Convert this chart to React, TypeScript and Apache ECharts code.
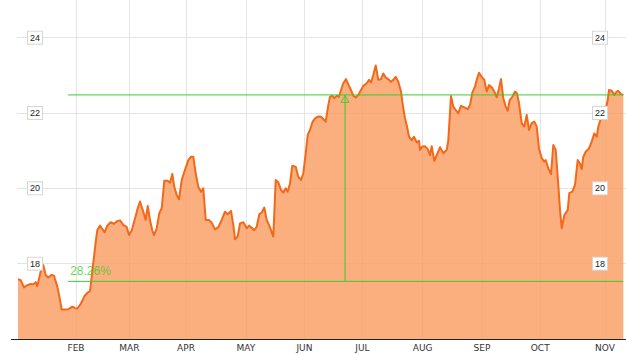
import React, { useEffect, useRef } from "react";
import * as echarts from "echarts";

// trading-day index (x) and closing price (y)
const days = [
  0, 0.96, 2.14, 3.32, 4.54, 5.46, 6.32, 6.89, 8.11, 9.04, 9.89, 10.82, 11.89, 12.86, 14.04, 14.89, 15.61, 17.04, 18.21, 19.39,
  20.36, 21.18, 22.39, 23.82, 25.0, 25.71, 26.68, 27.75, 28.32, 29.29, 30.11, 30.96, 31.89, 33.11, 34.29, 35.46, 36.43, 37.61, 38.82, 39.64,
  40.61, 41.79, 42.75, 43.57, 44.75, 45.61, 46.32, 47.14, 47.96, 48.57, 49.54, 50.46, 51.32, 52.25, 53.46, 54.29, 55.11, 55.82, 56.68, 57.5,
  58.46, 59.64, 60.82, 61.79, 62.61, 63.46, 64.39, 65.36, 66.18, 67.04, 68.21, 69.18, 70.36, 71.54, 72.75, 73.93, 74.89, 76.07, 76.89, 77.5,
  78.46, 79.29, 80.46, 81.68, 82.5, 83.46, 84.39, 85.25, 86.18, 87.04, 87.96, 88.82, 89.64, 90.36, 91.18, 92.04, 92.96, 93.93, 94.75, 95.61,
  96.32, 97.14, 97.96, 99.18, 100.1, 101.07, 101.89, 102.75, 103.46, 104.29, 105.11, 106.07, 107.25, 108.21, 109.89, 110.82, 111.43, 112.25, 112.96, 113.82,
  114.64, 115.36, 116.18, 117.14, 117.96, 118.93, 119.75, 120.61, 121.54, 122.5, 123.32, 124.54, 125.36, 126.07, 126.89, 127.75, 128.68, 129.64, 130.46, 131.32,
  132.25, 133.21, 134.04, 134.89, 135.82, 136.79, 137.5, 138.21, 138.93, 139.64, 140.61, 141.43, 142.39, 143.21, 143.57, 144.39, 145.36, 146.32, 147.14, 147.75,
  148.68, 149.54, 150.71, 151.89, 153.11, 153.68, 154.64, 155.46, 156.32, 157.25, 158.21, 159.39, 160.61, 161.43, 162.25, 163.21, 163.82, 164.64, 165.61, 166.54,
  167.39, 168.21, 169.18, 170.11, 170.96, 171.79, 172.5, 173.32, 174.18, 174.89, 175.61, 176.54, 177.5, 178.21, 178.93, 179.89, 180.82, 181.68, 182.5, 183.46,
  184.39, 185.25, 186.07, 187.04, 187.96, 188.46, 189.39, 190.36, 191.18, 192.04, 192.75, 193.57, 194.18, 195.11, 196.32, 196.89, 197.96, 198.93, 199.89, 200.71,
  201.32, 201.89, 202.75, 203.93, 204.89, 205.82, 206.68, 207.25, 208.21, 209.04, 209.89, 210.61, 211.07, 212.04, 212.96, 213.82, 214.39, 215.36, 216.18,
];
const prices = [
  17.59, 17.56, 17.37, 17.43, 17.46, 17.45, 17.51, 17.4, 17.79, 17.96, 17.7, 17.63, 17.7, 17.68, 17.39, 17.08, 16.78, 16.78, 16.8, 16.86,
  16.82, 16.81, 16.93, 17.15, 17.24, 17.27, 17.88, 18.58, 18.89, 19.01, 18.92, 18.83, 19.01, 19.1, 19.06, 19.13, 19.15, 19.03, 18.97, 18.76,
  18.88, 19.2, 19.47, 19.65, 19.38, 19.16, 19.53, 19.16, 18.88, 18.76, 18.94, 19.34, 19.47, 20.2, 20.2, 20.15, 20.38, 20.04, 19.82, 19.71,
  20.22, 20.49, 20.75, 20.84, 20.84, 20.4, 20.04, 19.91, 20.0, 19.16, 19.16, 19.09, 18.91, 18.97, 19.16, 19.38, 19.31, 19.4, 19.03, 18.65,
  18.72, 19.07, 19.1, 18.94, 19.01, 18.95, 18.89, 18.98, 19.31, 19.36, 19.49, 19.16, 19.03, 18.89, 18.72, 20.22, 20.16, 19.96, 19.89, 20.0,
  19.91, 20.13, 20.6, 20.57, 20.31, 20.22, 20.4, 20.93, 21.42, 21.55, 21.75, 21.86, 21.91, 21.9, 21.77, 22.21, 22.43, 22.46, 22.39, 22.46,
  22.43, 22.61, 22.79, 22.9, 22.76, 22.61, 22.46, 22.41, 22.48, 22.61, 22.72, 22.79, 22.88, 22.81, 23.01, 23.26, 22.88, 22.9, 23.05, 22.94,
  22.9, 22.83, 22.88, 22.96, 22.83, 22.57, 22.17, 21.86, 21.64, 21.37, 21.28, 21.37, 21.22, 21.26, 21.02, 21.11, 21.12, 21.04, 20.88, 21.12,
  20.73, 20.88, 21.09, 20.93, 21.02, 21.28, 22.45, 22.17, 22.08, 21.99, 22.19, 22.15, 22.1, 22.21, 22.54, 22.7, 22.88, 23.07, 22.96, 22.88,
  22.57, 22.74, 22.68, 22.57, 22.42, 22.66, 22.9, 22.39, 22.17, 22.06, 22.35, 22.43, 22.57, 22.52, 22.26, 21.73, 21.64, 21.95, 21.55, 21.73,
  21.77, 21.64, 21.06, 20.8, 20.71, 20.75, 20.53, 20.38, 21.15, 21.02, 20.31, 19.42, 18.94, 19.29, 19.42, 19.87, 19.91, 20.09, 20.75, 20.66,
  20.51, 20.84, 20.97, 21.06, 21.24, 21.46, 21.37, 21.64, 21.86, 21.95, 22.08, 22.35, 22.61, 22.59, 22.48, 22.57, 22.59, 22.5, 22.48,
];

// month boundaries on the trading-day axis
const monthTicks = [20.7, 39.8, 60, 81.4, 102.3, 123, 144.5, 165.7, 186.5, 209.6];
const monthLabels = ["FEB", "MAR", "APR", "MAY", "JUN", "JUL", "AUG", "SEP", "OCT", "NOV"];
const yTicks = [18, 20, 22, 24];

// gain measurement annotation
const gainLow = 17.53;
const gainHigh = 22.48;
const gainStartDay = 17.9;
const gainEndDay = 216.2;
const gainMarkDay = 116.8;
const gainLabel = "28.26%";

const GREEN = "#3ccc2e";

export default function App() {
  const ref = useRef<HTMLDivElement>(null);

  useEffect(() => {
    if (!ref.current) return;
    const chart = echarts.init(ref.current, undefined, { renderer: "svg" });
    const data = days.map((d, i) => [d, prices[i]]);

    const yBase = {
      type: "value",
      min: 16,
      max: 25,
      axisLine: { show: false },
      axisTick: { show: false, customValues: yTicks },
    };
    const yLabel = {
      inside: true,
      customValues: yTicks,
      fontFamily: "Liberation Sans, Arial, sans-serif",
      fontSize: 9,
      color: "#222",
      backgroundColor: "#fff",
      borderColor: "#d6d6d6",
      borderWidth: 1,
      padding: [2, 2, 1, 2],
    };

    const guide = (pts: number[][]) => ({
      type: "line",
      yAxisIndex: 0,
      data: pts,
      symbol: "none",
      silent: true,
      lineStyle: { color: GREEN, width: 1 },
      z: 3,
    });

    chart.setOption({
      animation: false,
      backgroundColor: "#fff",
      grid: { left: 17, right: 0, top: 0, bottom: 16, containLabel: false },
      xAxis: {
        type: "value",
        min: -0.36,
        max: 217.14,
        axisLine: { show: true, onZero: false, lineStyle: { color: "#222", width: 1 } },
        axisTick: { show: false, customValues: monthTicks },
        axisLabel: {
          customValues: monthTicks,
          formatter: (v: number) => {
            const i = monthTicks.findIndex((m) => Math.abs(m - v) < 0.01);
            return i >= 0 ? monthLabels[i] : "";
          },
          fontFamily: "DejaVu Sans, Verdana, sans-serif",
          fontSize: 9,
          color: "#333",
          margin: 4,
        },
        splitLine: { show: true, lineStyle: { color: "#e4e4e4", width: 1 } },
      },
      yAxis: [
        {
          ...yBase,
          position: "left",
          axisLabel: { show: false },
          splitLine: { show: true, lineStyle: { color: "#e4e4e4", width: 1 } },
          z: 0,
        },
        {
          ...yBase,
          position: "left",
          splitLine: { show: false },
          axisLabel: { ...yLabel, margin: 11 },
          z: 10,
        },
        {
          ...yBase,
          position: "right",
          splitLine: { show: false },
          axisLabel: { ...yLabel, margin: 19 },
          z: 10,
        },
      ],
      graphic: [
        {
          type: "line",
          shape: { x1: 11, y1: 339.5, x2: 17, y2: 339.5 },
          style: { stroke: "#222", lineWidth: 1 },
        },
      ],
      series: [
        {
          type: "line",
          data,
          showSymbol: false,
          yAxisIndex: 0,
          lineStyle: { color: "#f2691a", width: 2, join: "round" },
          areaStyle: { color: "#fa9a5e", opacity: 0.8, origin: "start" },
          z: 2,
        },
        guide([
          [gainStartDay, gainHigh],
          [gainEndDay, gainHigh],
        ]),
        guide([
          [gainStartDay, gainLow],
          [gainEndDay, gainLow],
        ]),
        guide([
          [gainMarkDay, gainLow],
          [gainMarkDay, gainHigh],
        ]),
        {
          type: "scatter",
          yAxisIndex: 0,
          silent: true,
          z: 4,
          data: [
            {
              value: [gainMarkDay, gainHigh],
              symbol: "triangle",
              symbolSize: [8, 7],
              symbolOffset: [0, 4],
              itemStyle: { color: "rgba(0,0,0,0)", borderColor: GREEN, borderWidth: 1 },
            },
            {
              value: [gainStartDay, gainLow],
              symbol: "circle",
              symbolSize: 0,
              itemStyle: { color: "rgba(0,0,0,0)" },
              label: {
                show: true,
                position: [2, -16],
                formatter: gainLabel,
                color: GREEN,
                fontSize: 12,
                fontFamily: "Liberation Sans, Arial, sans-serif",
              },
            },
          ],
        },
      ],
    });

    return () => chart.dispose();
  }, []);

  return (
    <div
      ref={ref}
      style={{ position: "fixed", left: 0, top: 0, width: 626, height: 355, background: "#fff" }}
    />
  );
}
